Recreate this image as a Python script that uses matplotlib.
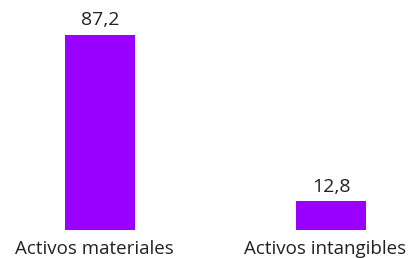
import matplotlib.pyplot as plt
import matplotlib.transforms as mtransforms

# Chart data
categories = ['Activos materiales', 'Activos intangibles']
values = [87.2, 12.8]
value_labels = ['87,2', '12,8']

plt.rcParams['font.family'] = ['Open Sans', 'DejaVu Sans']

fig = plt.figure(figsize=(4.12, 2.58), dpi=100)
ax = fig.add_axes([0, 28 / 258, 1, 230 / 258])

bars = ax.bar(range(len(categories)), values, width=0.303, color='#9900FF')
ax.bar_label(bars, labels=value_labels, padding=4, fontsize=14, color='#222222')

ax.set_xlim(-100 / 231, 312 / 231)
ax.set_ylim(0, 230 / 195 * 87.2)

ax.set_xticks(range(len(categories)))
ax.set_xticklabels(categories, fontsize=13.5, color='#222222')
ax.tick_params(axis='x', length=0, pad=7)
shift = mtransforms.ScaledTranslation(-6 / 100, 0, fig.dpi_scale_trans)
for lbl in ax.get_xticklabels():
    lbl.set_transform(lbl.get_transform() + shift)
ax.set_yticks([])
for s in ax.spines.values():
    s.set_visible(False)

fig.savefig('out.png', dpi=100)
